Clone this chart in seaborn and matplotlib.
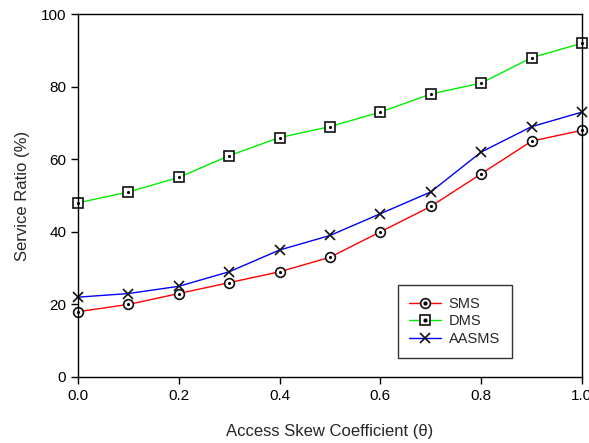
import numpy as np
import pandas as pd
import matplotlib
matplotlib.use("Agg")
import matplotlib.pyplot as plt
import seaborn as sns
from matplotlib.lines import Line2D

# values
theta = [0.0, 0.1, 0.2, 0.3, 0.4, 0.5, 0.6, 0.7, 0.8, 0.9, 1.0]
sms = [18, 20, 23, 26, 29, 33, 40, 47, 56, 65, 68]
dms = [48, 51, 55, 61, 66, 69, 73, 78, 81, 88, 92]
aasms = [22, 23, 25, 29, 35, 39, 45, 51, 62, 69, 73]
series_names = ["SMS", "DMS", "AASMS"]
series_vals = [sms, dms, aasms]

sns.set_style("ticks")
plt.rcParams["font.family"] = ["Liberation Sans", "DejaVu Sans"]

colors = {"SMS": "#ff0000", "DMS": "#00ee00", "AASMS": "#0000ff"}
markers = {"SMS": "o", "DMS": "s", "AASMS": "x"}

fig = plt.figure(figsize=(5.89, 4.43), dpi=100)
ax = fig.add_axes([0.1324, 0.149, 0.8556, 0.819])

handles = []
for name, vals in zip(series_names, series_vals):
    sns.lineplot(x=theta, y=vals, color=colors[name], marker=markers[name],
                 linewidth=1.0, markersize=7, markerfacecolor="white",
                 markeredgecolor="#111111", markeredgewidth=1.2, ax=ax, clip_on=False)
    base = Line2D([], [], color=colors[name], lw=1.0, marker=markers[name], markersize=7,
                  markerfacecolor="white", markeredgecolor="#111111", markeredgewidth=1.2)
    if name == "AASMS":
        handles.append(base)
    else:
        # small dot inside the circle / square markers
        sns.scatterplot(x=theta, y=vals, color="black", s=5, linewidth=0,
                        ax=ax, zorder=5, clip_on=False)
        dot = Line2D([], [], ls="none", marker="o", markersize=2, color="black")
        handles.append((base, dot))

leg = ax.legend(handles, series_names, loc="lower left", bbox_to_anchor=(0.62, 0.033),
                frameon=True, fancybox=False, edgecolor="black", fontsize=10.5,
                handlelength=2.2, handletextpad=0.5, borderpad=0.8, labelspacing=0.25)
leg.get_frame().set_linewidth(1.0)

ax.set_xlim(0, 1.0)
ax.set_ylim(0, 100)
ax.set_xticks([0.0, 0.2, 0.4, 0.6, 0.8, 1.0])
ax.set_xticklabels(["0.0", "0.2", "0.4", "0.6", "0.8", "1.0"])
ax.set_yticks([0, 20, 40, 60, 80, 100])
ax.tick_params(axis="both", direction="out", length=5, width=1, labelsize=11, colors="black")
for s in ax.spines.values():
    s.set_linewidth(1.0)
    s.set_color("black")

ax.set_xlabel("Access Skew Coefficient (\u03b8)", fontsize=12, labelpad=15)
ax.set_ylabel("Service Ratio (%)", fontsize=12, labelpad=8)

fig.savefig("out.png", dpi=100)
